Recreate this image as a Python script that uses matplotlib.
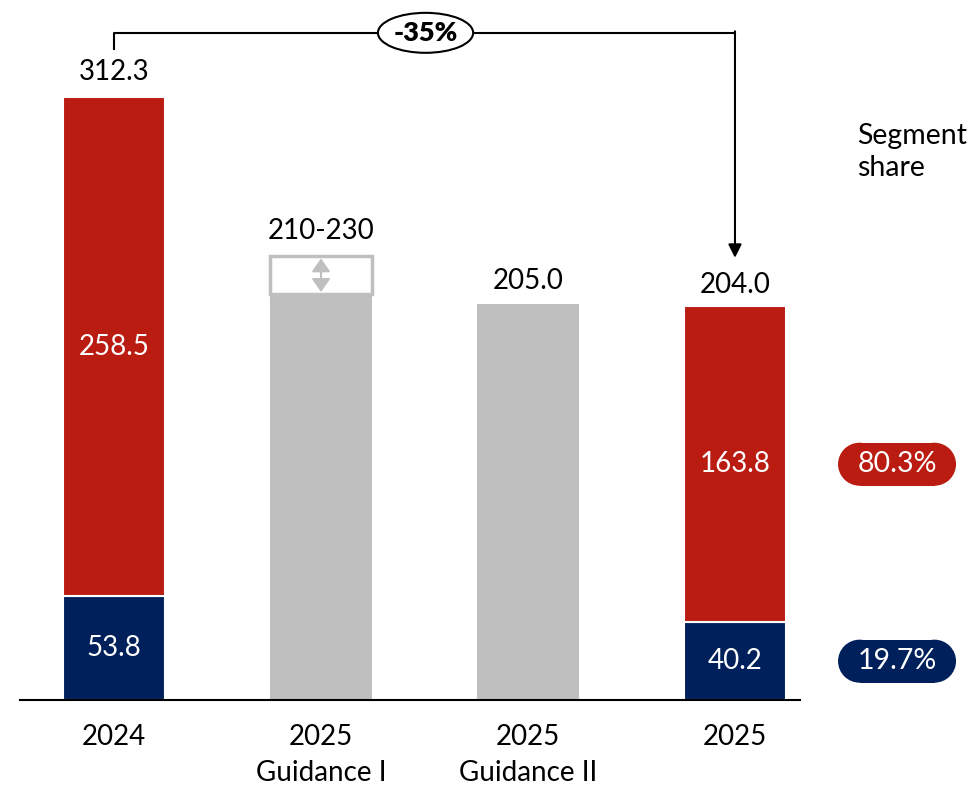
import matplotlib
matplotlib.use("Agg")
import matplotlib.pyplot as plt
from matplotlib.patches import Ellipse, Rectangle, Circle
from matplotlib.transforms import IdentityTransform

plt.rcParams['font.family'] = ['Lato', 'DejaVu Sans']

# data
categories = ['2024', '2025\nGuidance I', '2025\nGuidance II', '2025']
navy_vals = [53.8, 0, 0, 40.2]
red_vals = [258.5, 0, 0, 163.8]
grey_vals = [0, 210.0, 205.0, 0]
totals = [312.3, 210.0, 205.0, 204.0]
top_labels = ['312.3', '210-230', '205.0', '204.0']
guidance_range = (210, 230)
change_label = '-35%'
share_labels = ['80.3%', '19.7%']

RED = '#BA1C12'
NAVY = '#00205B'
GREY = '#BFBFBF'

fig = plt.figure(figsize=(9.79, 7.89), dpi=100)
ax = fig.add_axes([0, 0, 1, 1])
ax.set_xlim(-0.551, 4.179)
ax.set_ylim(-46.1, 362.5)
ax.axis('off')

x = range(len(categories))
w = 0.49
ax.bar(x, navy_vals, width=w, color=NAVY, edgecolor='white', linewidth=1.5)
ax.bar(x, red_vals, width=w, bottom=navy_vals, color=RED, edgecolor='white', linewidth=1.5)
ax.bar(x, grey_vals, width=w, color=GREY, linewidth=0)

# baseline
ax.plot([-0.454, 3.314], [0, 0], color='black', lw=1.5)

# guidance range box
lo, hi = guidance_range
ax.add_patch(Rectangle((1 - w / 2, lo), w, hi - lo, facecolor='white',
                       edgecolor=GREY, lw=2.5))
ax.annotate('', xy=(1, hi - 1.3), xytext=(1, lo + 1.3),
            arrowprops=dict(arrowstyle='<|-|>,head_length=0.5,head_width=0.35',
                            color=GREY, lw=1.5, mutation_scale=16,
                            shrinkA=0, shrinkB=0))

# segment values inside bars
for i in x:
    if navy_vals[i]:
        ax.text(i, navy_vals[i] / 2, f'{navy_vals[i]:.1f}', color='white',
                ha='center', va='center', fontsize=20)
    if red_vals[i]:
        ax.text(i, navy_vals[i] + red_vals[i] / 2, f'{red_vals[i]:.1f}',
                color='white', ha='center', va='center', fontsize=20)

# totals on top
top_y = [312.3, 230, 205.0, 204.0]
offs = [6, 6, 5, 4]
for i, lab in enumerate(top_labels):
    ax.text(i, top_y[i] + offs[i], lab, ha='center', va='bottom', fontsize=20)

# category labels
for i, lab in enumerate(categories):
    ax.text(i, -12.5, lab, ha='center', va='top', fontsize=20, linespacing=1.45)

# change bracket
ax.plot([0, 0, 3], [337, 345.5, 345.5], color='black', lw=1.5)
ax.annotate('', xy=(3, 229), xytext=(3, 345.5 + 0.8),
            arrowprops=dict(arrowstyle='-|>', color='black', lw=1.5,
                            mutation_scale=20, shrinkA=0, shrinkB=0))
ax.add_patch(Ellipse((1.505, 345.5), 0.46, 20.7, facecolor='white',
                     edgecolor='black', lw=1.5, zorder=3))
ax.text(1.505, 345.3, change_label, ha='center', va='center', fontsize=19.5,
        fontweight='heavy', zorder=4)

# segment share
ax.text(3.589, 299, 'Segment\nshare', ha='left', va='top', fontsize=20.5,
        linespacing=1.3)

pill_x = 3.783
pill_w, pill_h = 118, 43
pill_y = [navy_vals[3] + red_vals[3] / 2, navy_vals[3] / 2]
for lab, yv, col in zip(share_labels, pill_y, [RED, NAVY]):
    px, py = ax.transData.transform((pill_x, yv))
    r = pill_h / 2
    ax.add_patch(Rectangle((px - pill_w / 2 + r, py - r), pill_w - 2 * r, pill_h,
                           transform=IdentityTransform(), fc=col, ec='none'))
    for cx in (px - pill_w / 2 + r, px + pill_w / 2 - r):
        ax.add_patch(Circle((cx, py), r, transform=IdentityTransform(),
                            fc=col, ec='none'))
    ax.text(pill_x, yv, lab, color='white', ha='center', va='center', fontsize=20.5)

fig.savefig('out.png', dpi=100)
